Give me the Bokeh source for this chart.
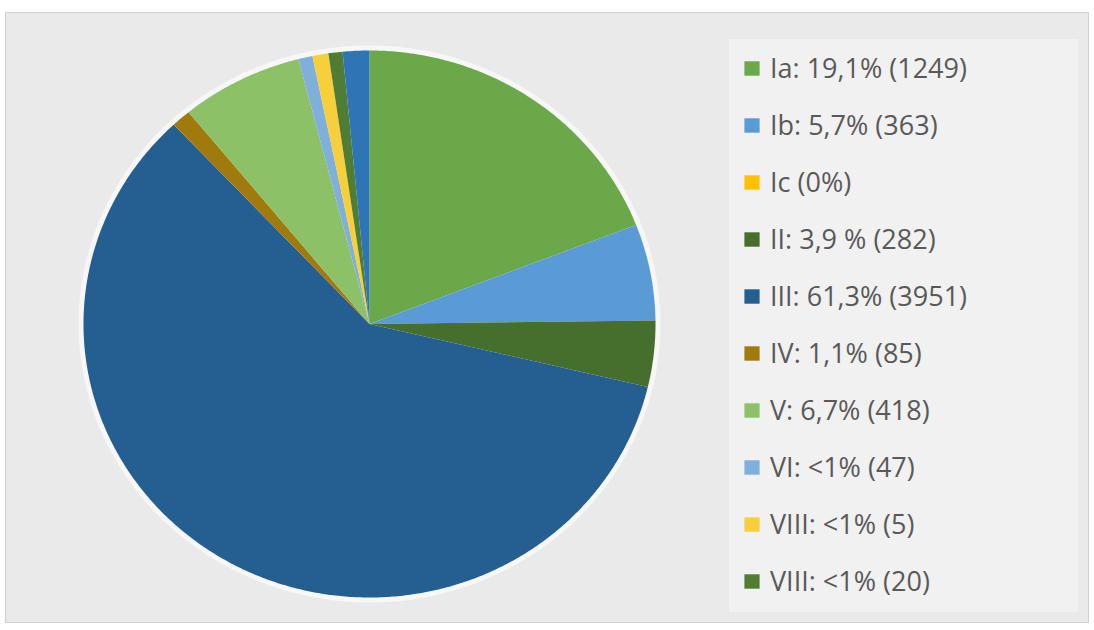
import numpy as np
from bokeh.plotting import figure
from bokeh.models import Range1d, Legend, LegendItem, ColumnDataSource, BoxAnnotation
from bokeh.embed import file_html
from bokeh.resources import INLINE

# ---- data ----
labels = ["Ia: 19,1% (1249)", "Ib: 5,7% (363)", "Ic (0%)", "II: 3,9 % (282)",
          "III: 61,3% (3951)", "IV: 1,1% (85)", "V: 6,7% (418)", "VI: <1% (47)",
          "VIII: <1% (5)", "VIII: <1% (20)", ""]
# slice shares (percent)
shares = [19.1, 5.7, 0.0, 3.9, 59.3, 1.1, 6.9, 0.8, 0.9, 0.8, 1.5]
colors = ["#6aa84a", "#5b9bd5", "#ffc000", "#466f2d", "#255e91", "#a07a0c",
          "#8cc168", "#7fb0dc", "#f7cf3a", "#4f7d33", "#2e75b6"]

W, H = 1094, 630
p = figure(width=W, height=H, output_backend="svg", toolbar_location=None,
           x_range=Range1d(5, 1088), y_range=Range1d(8, 618),
           min_border_left=5, min_border_right=6, min_border_top=12, min_border_bottom=8,
           background_fill_color="#eaeaea", border_fill_color="#ffffff",
           outline_line_color="#cfcfcf")
p.axis.visible = False
p.grid.visible = False

# legend panel
p.add_layout(BoxAnnotation(left=728, right=1078, bottom=18, top=592,
                           fill_color="#f1f1f1", fill_alpha=1.0,
                           line_color="#dddddd", line_width=1, level="underlay"))

# pie geometry (slightly elliptical, as in the reference)
cx, cy, rx, ry = 369, 306.5, 286, 273.5
tot = float(sum(shares))
cum = np.concatenate([[0.0], np.cumsum(shares)]) / tot

xs, ys = [], []
for a0, a1 in zip(cum[:-1], cum[1:]):
    n = max(2, int(np.ceil((a1 - a0) * 720)) + 1)
    t = np.linspace(a0, a1, n) * 2 * np.pi  # clockwise from 12 o'clock
    xs.append(np.concatenate([[cx], cx + rx * np.sin(t), [cx]]))
    ys.append(np.concatenate([[cy], cy + ry * np.cos(t), [cy]]))

src = ColumnDataSource(dict(xs=xs, ys=ys, color=colors, label=labels))

# soft halo behind pie
p.ellipse(x=[cx], y=[cy], width=2 * (rx + 5), height=2 * (ry + 5),
          fill_color="#ffffff", fill_alpha=0.6, line_color=None)

pr = p.patches(xs="xs", ys="ys", fill_color="color", line_color=None, source=src)

items = [LegendItem(label=labels[i], renderers=[pr], index=i) for i in range(10)]
leg = Legend(items=items, location=(737, 23), margin=0, padding=10,
             spacing=20, label_height=32, glyph_height=18, glyph_width=19,
             label_standoff=9, label_text_font="Open Sans", label_text_font_size="27px",
             label_text_color="#595959", background_fill_alpha=0,
             border_line_color=None)
p.add_layout(leg, "center")

open("out.html", "w").write(file_html(p, INLINE))
